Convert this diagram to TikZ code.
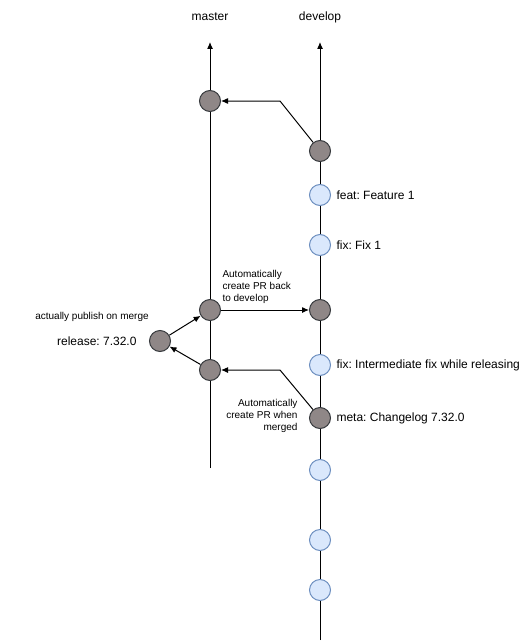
\documentclass[tikz,border=0pt]{standalone}
\usepackage{fontspec}
\setmainfont{Liberation Sans}
\frenchspacing
\usetikzlibrary{arrows.meta}
\definecolor{gfill}{HTML}{8F8787}
\definecolor{gline}{HTML}{36393D}
\definecolor{bfill}{HTML}{DAE8FC}
\definecolor{bline}{HTML}{6C8EBF}
\begin{document}
\begin{tikzpicture}[x=1pt,y=-1pt,
  line width=1pt,
  gc/.style={circle,draw=gline,fill=gfill,minimum size=21pt,inner sep=0pt,line width=1pt},
  bc/.style={circle,draw=bline,fill=bfill,minimum size=21pt,inner sep=0pt,line width=1pt},
  arr/.style={-{Latex[length=7pt,width=6pt]},line width=1pt},
  lbl/.style={font=\fontsize{12}{14}\selectfont,inner sep=0pt},
  sm/.style={font=\fontsize{10}{12}\selectfont,inner sep=0pt},
]
\useasboundingbox (0,0) rectangle (531,642);
% branch labels
\node[lbl] (lm) at (210,17) {master};
\node[lbl] (ld) at (320,17) {develop};
% branch lines
\coordinate (mtop) at (210,42);
\coordinate (mbot) at (210,468);
\coordinate (dtop) at (320,42);
\coordinate (dbot) at (320,640);
\draw[arr] (mbot) -- (mtop);
\draw[arr] (dbot) -- (dtop);
% master commits
\node[gc] (m1) at (210,101) {};
\node[gc] (m2) at (210,310) {};
\node[gc] (m3) at (210,370) {};
\node[gc] (rel) at (160,341) {};
% develop commits
\node[gc] (d1) at (320,151) {};
\node[bc] (d2) at (320,195) {};
\node[bc] (d3) at (320,245) {};
\node[gc] (d4) at (320,310) {};
\node[bc] (d5) at (320,365) {};
\node[gc] (d6) at (320,418) {};
\node[bc] (d7) at (320,470) {};
\node[bc] (d8) at (320,540) {};
\node[bc] (d9) at (320,590) {};
% connectors
\coordinate (k1) at (280,101);
\draw[arr] (d1) -- (k1) -- (m1);
\draw[arr] (m2) -- (d4);
\coordinate (k2) at (280,370);
\draw[arr] (d6) -- (k2) -- (m3);
\draw[arr] (m3) -- (rel);
\draw[arr] (rel) -- (m2);
% labels
\node[lbl,anchor=west] (t2) at (336,195) {feat: Feature 1};
\node[lbl,anchor=west] (t3) at (336,245) {fix: Fix 1};
\node[lbl,anchor=west] (t5) at (336,365) {fix: Intermediate fix while releasing};
\node[lbl,anchor=west] (t6) at (336,418) {meta: Changelog 7.32.0};
\node[lbl,anchor=east] (trel) at (137,341) {release: 7.32.0};
\node[sm] (tpub) at (92,317) {actually publish on merge};
\node[sm,align=left,anchor=south west] (tback) at (222,304) {Automatically\\create PR back\\to develop};
\node[sm,align=right,anchor=east] (twhen) at (298,416) {Automatically\\create PR when\\merged};
\end{tikzpicture}
\end{document}
